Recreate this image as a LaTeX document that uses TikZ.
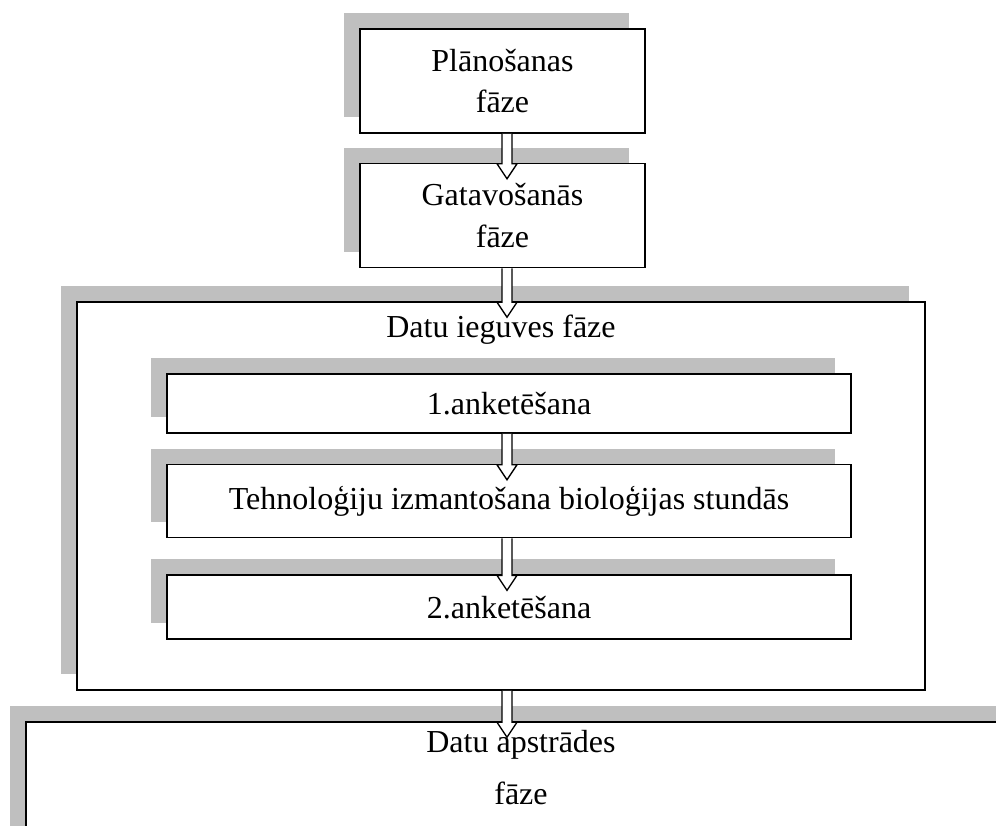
\documentclass[tikz,border=0pt]{standalone}
\usepackage{fontspec}
\setmainfont{Liberation Serif}
\usetikzlibrary{positioning,calc,shadows}
\definecolor{shade}{RGB}{191,191,191}
% hollow block arrow from the bottom of #1 into the top of #2
\newcommand{\hollowarrow}[2]{%
  \draw[hollow] ($(#1.south -| ax)+(-5,0)$) -- ($(#2.north -| ax)+(-5,1)$) -- ++(-5,0)
    -- ($(#2.north -| ax)+(0,16)$) -- ++(10,-15) -- ++(-5,0) -- ($(#1.south -| ax)+(5,0)$);}

\begin{document}
\begin{tikzpicture}[
      x=0.75pt,y=-0.75pt,
      font=\fontsize{24pt}{31pt}\selectfont,
      box/.style={draw,line width=1.2pt,fill=white,align=center,
        general shadow={fill=shade,shadow xshift=-12pt,shadow yshift=12pt}},
      phase/.style={box,minimum width=213.75pt,minimum height=78pt},
      inner/.style={box,minimum width=513pt},
      hollow/.style={draw=black,line width=1pt,fill=white}
    ]
      \useasboundingbox (0,0) rectangle (996,825);
      \clip (0,0) rectangle (996,825);
      \coordinate (ax) at (507,0);
      \node[phase] (a) at (502.5,81) {Plānošanas\\fāze};
      \node[phase,below=21.75pt of a] (b) {Gatavošanās\\fāze};
      \node[box,minimum width=636pt,minimum height=291pt,
        label={[anchor=north,yshift=-6.5pt]north:Datu ieguves fāze}] (c) at (501,496) {};
      \node[inner,minimum height=44.25pt] (d) at (509,403.5) {1.anketēšana};
      \node[inner,minimum height=54.75pt,below=22.5pt of d] (e) {Tehnoloģiju izmantošana bioloģijas stundās};
      \node[inner,minimum height=48pt,below=27pt of e] (f) {2.anketēšana};
      \node[box,minimum width=742.5pt,minimum height=150pt,
        label={[anchor=north,align=center,yshift=-3.5pt]north:Datu apstrādes\\[8pt]fāze}] (g) at (521,822) {};
      \hollowarrow{a}{b}
      \hollowarrow{b}{c}
      \hollowarrow{d}{e}
      \hollowarrow{e}{f}
      \hollowarrow{c}{g}
\end{tikzpicture}
\end{document}
